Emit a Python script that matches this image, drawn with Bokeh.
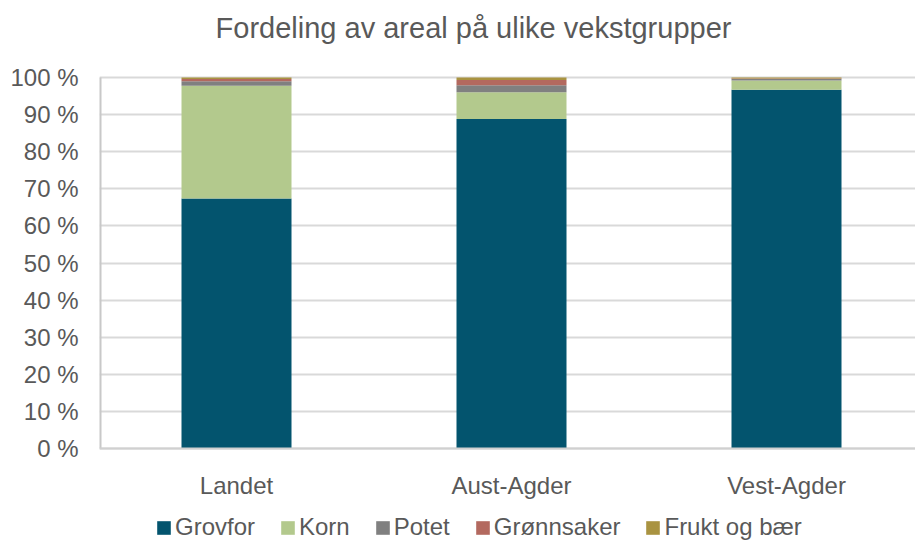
from bokeh.plotting import figure
from bokeh.models import ColumnDataSource, FixedTicker, Legend, LegendItem, Span, Label
from bokeh.core.properties import value
from bokeh.embed import file_html
from bokeh.resources import INLINE

categories = ["Landet", "Aust-Agder", "Vest-Agder"]
series = ["Grovfor", "Korn", "Potet", "Grønnsaker", "Frukt og bær"]
grovfor = [67.4, 88.8, 96.7]
korn = [30.4, 7.2, 2.5]
potet = [1.2, 1.9, 0.4]
gronnsaker = [0.6, 1.4, 0.1]
frukt = [0.4, 0.7, 0.3]
colors = ["#03546E", "#B3C98D", "#808080", "#B3695F", "#A99341"]
y_ticks = [0, 10, 20, 30, 40, 50, 60, 70, 80, 90, 100]
title_text = "Fordeling av areal på ulike vekstgrupper"

FONT = "Liberation Sans"
TXT = "#595959"

# layout (pixels)
W, H = 915, 541
LEFT = 99
Y_TOP_PX, Y_ZERO_PX = 77, 448          # where 100 % and 0 % sit
PX_PER_PCT = (Y_ZERO_PX - Y_TOP_PX) / 100.0
X_PX_PER_CAT = 275.0
X_FIRST_PX = 236.0                     # centre of first category
x_lo = (LEFT - X_FIRST_PX) / X_PX_PER_CAT
x_hi = (W - X_FIRST_PX) / X_PX_PER_CAT
y_lo = -(H - Y_ZERO_PX) / PX_PER_PCT
y_hi = 100 + Y_TOP_PX / PX_PER_PCT

xs = list(range(len(categories)))
src = ColumnDataSource(dict(
    x=xs,
    Grovfor=grovfor, Korn=korn, Potet=potet,
    **{"Grønnsaker": gronnsaker, "Frukt og bær": frukt},
))

p = figure(width=W, height=H, output_backend="svg", toolbar_location=None,
           x_range=(x_lo, x_hi), y_range=(y_lo, y_hi),
           x_axis_location=None,
           min_border_left=LEFT, min_border_right=0, min_border_top=0,
           min_border_bottom=0)
p.outline_line_color = None
p.background_fill_color = "white"
p.border_fill_color = "white"

p.xgrid.grid_line_color = None
p.ygrid.grid_line_color = "#D9D9D9"
p.ygrid.grid_line_width = 2
p.ygrid.ticker = FixedTicker(ticks=y_ticks)

renderers = p.vbar_stack(series, x="x", width=0.4, source=src, color=colors,
                         line_color=None)

# axis lines
p.add_layout(Span(location=0, dimension="width", line_color="#D0D0D0", line_width=2))
p.segment(x0=[x_lo], y0=[y_ticks[0]], x1=[x_lo], y1=[y_ticks[-1]],
          line_color="#C8C8C8", line_width=4)

p.yaxis.ticker = FixedTicker(ticks=y_ticks)
p.yaxis.major_label_overrides = {t: f"{t} %" for t in y_ticks}
p.yaxis.major_tick_line_color = None
p.yaxis.minor_tick_line_color = None
p.yaxis.axis_line_color = None
p.yaxis.major_label_text_font = FONT
p.yaxis.major_label_text_font_size = "24px"
p.yaxis.major_label_text_color = TXT
p.yaxis.major_label_standoff = 15

# category labels under the bars
p.text(x=xs, y=[0] * len(xs), text=categories, text_align="center",
       text_baseline="alphabetic", y_offset=37, text_font=value(FONT),
       text_font_size=value("24px"), text_color=TXT)

# title
p.add_layout(Label(x=(473 - X_FIRST_PX) / X_PX_PER_CAT,
                   y=100 + (Y_TOP_PX - 27) / PX_PER_PCT,
                   text=title_text, text_align="center", text_baseline="alphabetic",
                   text_font=FONT, text_font_size="29px", text_color=TXT))

legend = Legend(items=[LegendItem(label=s, renderers=[r]) for s, r in zip(series, renderers)],
                orientation="horizontal", location=(56, 0))
legend.glyph_width = 17
legend.glyph_height = 17
legend.label_standoff = 3
legend.spacing = 24
legend.padding = 0
legend.margin = 0
legend.border_line_color = None
legend.background_fill_alpha = 0
legend.label_text_font = FONT
legend.label_text_font_size = "24px"
legend.label_text_color = TXT
p.add_layout(legend, "center")

open("out.html", "w").write(file_html(p, INLINE))
